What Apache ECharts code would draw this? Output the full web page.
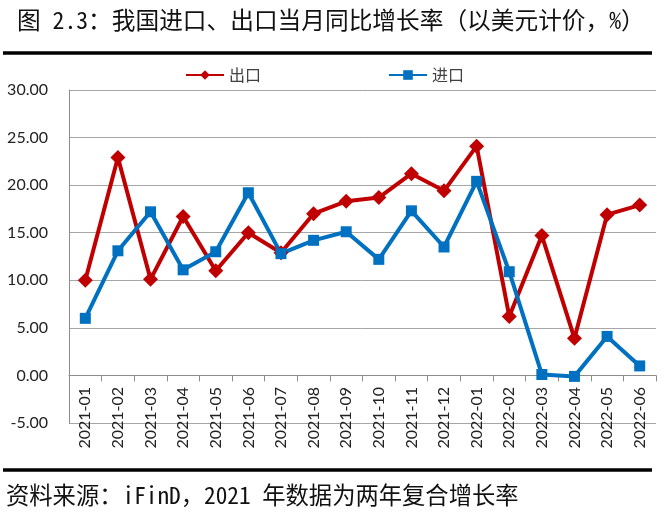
<!DOCTYPE html>
<html><head><meta charset="utf-8">
<script src="https://cdn.jsdelivr.net/npm/echarts@6/dist/echarts.min.js"></script>
<style>html,body{margin:0;padding:0;background:#fff}#c{width:666px;height:515px}</style>
</head><body><div id="c"></div>
<script>
var titleText = '图 2.3：我国进口、出口当月同比增长率（以美元计价，%）';
var sourceText = '资料来源：iFinD，2021 年数据为两年复合增长率';
var categories = ['2021-01','2021-02','2021-03','2021-04','2021-05','2021-06','2021-07','2021-08','2021-09','2021-10','2021-11','2021-12','2022-01','2022-02','2022-03','2022-04','2022-05','2022-06'];
var exportName = '出口';
var importName = '进口';
var exportValues = [10.0, 22.9, 10.1, 16.7, 11.0, 15.0, 12.9, 17.0, 18.3, 18.7, 21.2, 19.4, 24.1, 6.2, 14.7, 3.9, 16.9, 17.9];
var importValues = [6.0, 13.1, 17.2, 11.1, 13.0, 19.2, 12.8, 14.2, 15.1, 12.2, 17.3, 13.5, 20.4, 10.9, 0.1, -0.1, 4.1, 1.0];
var yMin = -5, yMax = 30, yStep = 5;

var chart = echarts.init(document.getElementById('c'), null, {renderer:'canvas'});
var lblFont = 'Lato, "Liberation Sans", sans-serif';
var cjkFont = '"Noto Sans Mono CJK SC", "Noto Sans CJK SC", sans-serif';
chart.setOption({
  animation:false,
  backgroundColor:'#fff',
  legend:{
    left:180, top:62, itemWidth:38, itemHeight:12, itemGap:127,
    textStyle:{fontFamily:'"Noto Sans CJK SC"', fontSize:16, color:'#404040'},
    data:[exportName, importName]
  },
  grid:{left:69, right:10, top:90, bottom:92},
  xAxis:{
    type:'category', data:categories, boundaryGap:true,
    axisLine:{onZero:true, lineStyle:{color:'#8c8c8c', width:1}},
    axisTick:{show:true, length:6, inside:false, lineStyle:{color:'#8c8c8c'}},
    axisLabel:{rotate:90, fontFamily:lblFont, fontSize:16, color:'#222', margin:-36, interval:0}
  },
  yAxis:{
    type:'value', min:yMin, max:yMax, interval:yStep,
    axisLine:{show:true, lineStyle:{color:'#8c8c8c'}},
    axisTick:{show:false},
    splitLine:{lineStyle:{color:'#a6a6a6', width:1}},
    axisLabel:{fontFamily:lblFont, fontSize:16, color:'#222', margin:21, formatter:function(v){return v.toFixed(2);}}
  },
  series:[
    {name:exportName, type:'line', data:exportValues, symbol:'diamond', symbolSize:15,
     lineStyle:{color:'#C00000', width:4}, itemStyle:{color:'#C00000'}},
    {name:importName, type:'line', data:importValues, symbol:'rect', symbolSize:11,
     lineStyle:{color:'#0070C0', width:4}, itemStyle:{color:'#0070C0'}}
  ],
  graphic:[
    {type:'text', left:17, top:8, style:{text:titleText, font:'23.7px ' + cjkFont, fill:'#111'}},
    {type:'line', shape:{x1:3, y1:53, x2:652, y2:53}, style:{stroke:'#000', lineWidth:3.5}},
    {type:'line', shape:{x1:3, y1:470, x2:652, y2:470}, style:{stroke:'#000', lineWidth:3.5}},
    {type:'text', left:6, top:484, style:{text:sourceText, font:'23.3px ' + cjkFont, fill:'#111'}}
  ]
});
</script></body></html>
